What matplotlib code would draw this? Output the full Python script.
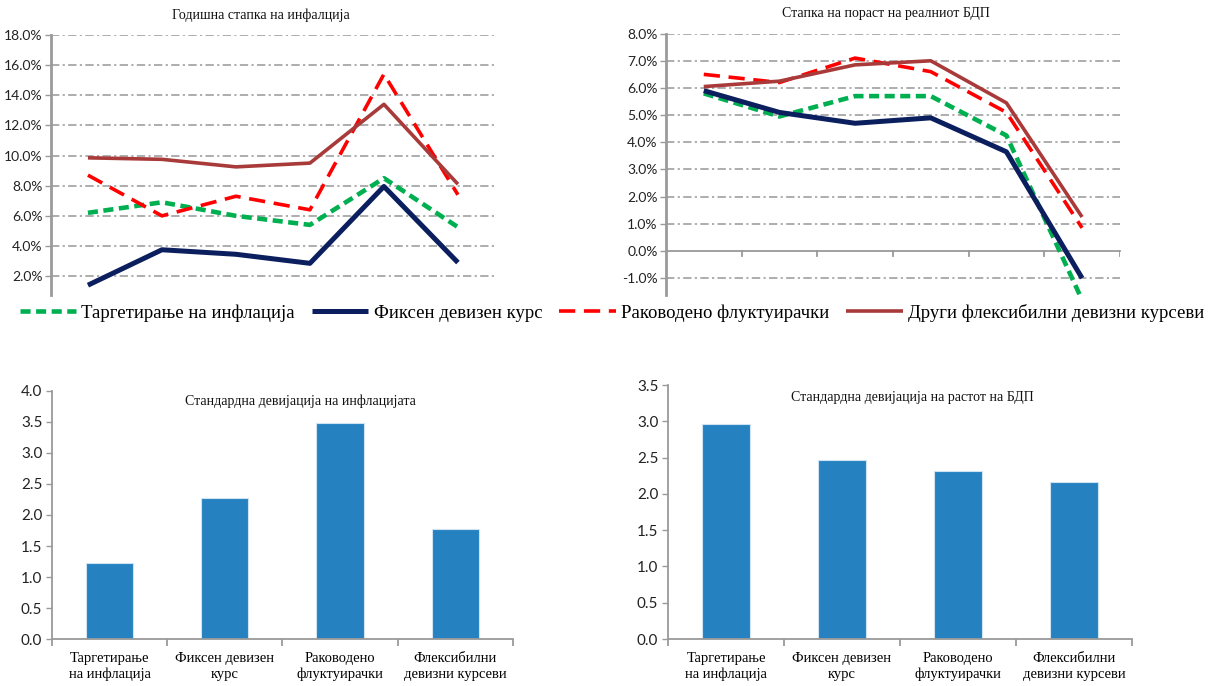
import matplotlib
matplotlib.use("Agg")
import matplotlib.pyplot as plt
import numpy as np
from matplotlib.font_manager import FontProperties
from matplotlib.ticker import FuncFormatter

# series order: inflation targeting, fixed peg, managed float, other flexible
regimes = ["Таргетирање на инфлација", "Фиксен девизен курс",
           "Раководено флуктуирачки", "Други флексибилни девизни курсеви"]
bar_labels = ["Таргетирање\nна инфлација", "Фиксен девизен\nкурс",
              "Раководено\nфлуктуирачки", "Флексибилни\nдевизни курсеви"]

# annual inflation rate, %
infl_target = [6.2, 6.9, 6.0, 5.4, 8.5, 5.25]
infl_fixed = [1.4, 3.75, 3.45, 2.85, 7.95, 2.9]
infl_managed = [8.7, 6.0, 7.3, 6.4, 15.4, 7.4]
infl_other = [9.85, 9.75, 9.25, 9.5, 13.4, 8.1]

# real GDP growth rate, %
gdp_target = [5.8, 4.95, 5.7, 5.7, 4.25, -1.8]
gdp_fixed = [5.9, 5.1, 4.7, 4.9, 3.65, -1.0]
gdp_managed = [6.5, 6.2, 7.1, 6.6, 5.1, 0.85]
gdp_other = [6.05, 6.25, 6.85, 7.0, 5.45, 1.25]

# standard deviations
sd_inflation = [1.22, 2.27, 3.48, 1.78]
sd_gdp = [2.97, 2.47, 2.32, 2.16]

serif = "Liberation Serif"
sans = "Lato"
grid_col = "#A0A0A0"
axis_col = "#9A9A9A"

styles = [
    dict(color="#00B050", lw=3.3, dashes=(2.2, 1.2)),
    dict(color="#0B1F5E", lw=3.6, ls="-"),
    dict(color="#FF0000", lw=2.6, dashes=(4.5, 2.4)),
    dict(color="#A93A3A", lw=2.6, ls="-"),
]

fig = plt.figure(figsize=(12.19, 6.86), dpi=100)
fig.patch.set_facecolor("white")

pct = FuncFormatter(lambda v, p: "%.1f%%" % v)


def line_panel(rect, series, ylim, yticks, zero_axis):
    ax = fig.add_axes(rect)
    x = np.arange(len(series[0]))
    lines = []
    for vals, st in zip(series, styles):
        st = dict(st)
        dashes = st.pop("dashes", None)
        ln, = ax.plot(x, vals, solid_capstyle="butt", zorder=3, **st)
        if dashes is not None:
            ln.set_dashes(dashes)
            ln.set_dash_capstyle("butt")
        lines.append(ln)
    ax.set_xlim(-0.5, len(x) - 0.5)
    ax.set_ylim(*ylim)
    ax.set_yticks(yticks)
    ax.yaxis.set_major_formatter(pct)
    for t in yticks:
        if zero_axis and t == 0:
            continue
        ax.axhline(t, color=grid_col, lw=1.2, ls=(0, (5, 2, 1.3, 2)), zorder=1)
    for s in ["top", "right"]:
        ax.spines[s].set_visible(False)
    ax.spines["left"].set_color(axis_col)
    ax.spines["left"].set_linewidth(2)
    if zero_axis:
        ax.spines["bottom"].set_position(("data", 0))
        ax.spines["bottom"].set_color(axis_col)
        ax.spines["bottom"].set_linewidth(1.3)
        ax.set_xticks([])
        for b in np.arange(0.5, len(x)):
            ax.plot([b, b], [0, -0.18], color=axis_col, lw=1.3, zorder=2)
    else:
        ax.spines["bottom"].set_visible(False)
        ax.set_xticks([])
    ax.tick_params(axis="y", length=4, width=1, color=axis_col, pad=2,
                   labelsize=10, labelcolor="#222222")
    for lab in ax.get_yticklabels():
        lab.set_fontfamily(sans)
    return ax, lines


ax1, lines = line_panel([0.0418, 0.570, 0.3642, 0.379],
                        [infl_target, infl_fixed, infl_managed, infl_other],
                        (0.75, 18.0), np.arange(2, 19, 2), False)
ax2, _ = line_panel([0.5463, 0.570, 0.3724, 0.381],
                    [gdp_target, gdp_fixed, gdp_managed, gdp_other],
                    (-1.62, 8.0), np.arange(-1, 9, 1), True)

fig.text(0.214, 0.978, "Годишна стапка на инфалција", family=serif,
         fontsize=10, ha="center", va="center", color="#111111")
fig.text(0.727, 0.981, "Стапка на пораст на реалниот БДП", family=serif,
         fontsize=10, ha="center", va="center", color="#111111")

leg = fig.legend(lines, regimes, loc="center", bbox_to_anchor=(0.502, 0.544),
                 ncol=4, frameon=False, handlelength=3.0, handletextpad=0.3,
                 columnspacing=0.9,
                 prop=FontProperties(family=serif, size=13.5))


def bar_panel(rect, vals, ymax, title, tx, ty):
    ax = fig.add_axes(rect)
    x = np.arange(len(vals))
    ax.bar(x, vals, width=0.41, color="#2581C0", edgecolor="#CFE3F2",
           linewidth=0.8, zorder=2)
    ax.set_xlim(-0.5, len(vals) - 0.5)
    ax.set_ylim(0, ymax)
    ax.set_yticks(np.arange(0, ymax + 0.01, 0.5))
    ax.yaxis.set_major_formatter(FuncFormatter(lambda v, p: "%.1f" % v))
    ax.set_xticks(x)
    ax.set_xticklabels(bar_labels, family=serif, fontsize=10.5,
                       linespacing=1.3)
    ax.set_xticks(np.arange(-0.5, len(vals)), minor=True)
    ax.tick_params(axis="x", which="major", length=0, pad=9)
    ax.tick_params(axis="x", which="minor", length=5, width=1.3,
                   color=axis_col)
    ax.tick_params(axis="y", length=4, width=1, color=axis_col, pad=3,
                   labelsize=11, labelcolor="#222222")
    for lab in ax.get_yticklabels():
        lab.set_fontfamily(sans)
    for s in ["top", "right"]:
        ax.spines[s].set_visible(False)
    for s in ["left", "bottom"]:
        ax.spines[s].set_color(axis_col)
        ax.spines[s].set_linewidth(1.3)
    ax.text(tx, ty, title, transform=ax.transAxes, family=serif,
            fontsize=10, ha="center", va="center", color="#111111")
    return ax


bar_panel([0.0427, 0.0681, 0.378, 0.3624], sd_inflation, 4.0,
          "Стандардна девијација на инфлацијата", 0.54, 0.958)
bar_panel([0.548, 0.0685, 0.3806, 0.370], sd_gdp, 3.5,
          "Стандардна девијација на растот на БДП", 0.526, 0.953)

fig.savefig("out.png", dpi=100, facecolor="white")
